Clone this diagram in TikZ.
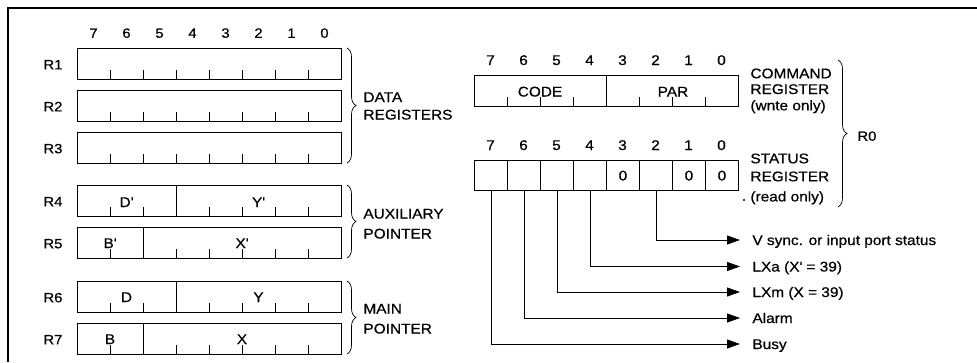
\documentclass[tikz,border=0pt]{standalone}
\usepackage{fontspec}
\setmainfont{Liberation Sans}[FakeStretch=1.1,FakeBold=0.6]
\usetikzlibrary{arrows.meta,decorations.pathreplacing}
\begin{document}
\begin{tikzpicture}[x=1pt,y=-1pt,line width=0.9pt,
  every node/.style={inner sep=0pt},
  lbl/.style={font=\fontsize{14}{17}\selectfont, text height=10pt, text depth=0pt},
  lbls/.style={font=\fontsize{13.5}{16}\selectfont, text height=9.6pt, text depth=0pt},
  regbox/.style={draw, minimum width=264pt, minimum height=31pt, anchor=north west},
  cell/.style={draw, minimum width=33pt, minimum height=30pt, anchor=north west, lbl},
  brc/.style={decorate, decoration={brace, amplitude=9pt}, line width=0.7pt},
  arr/.style={-{Triangle[length=13pt,width=9pt]}, line width=0.9pt},
  tick/.style={line width=0.8pt}]
\useasboundingbox (0,0) rectangle (977,362);
\draw[line width=1.6pt] (8,362) -- (8,8) -- (977,8);

% left bit numbers
\foreach \b in {0,...,7} \node[lbls] (tb\b) at (93.5+33*7-33*\b,33) {\b};

% left registers
\foreach \i/\y in {1/48,2/90,3/132,4/185,5/227,6/281,7/323} {
  \node[regbox] (r\i) at (77,\y) {};
  \node[lbls, anchor=west] (rl\i) at (43,\y+16.5) {R\i};
  \foreach \k in {0,...,6} \draw[tick] (110+33*\k,\y+31) -- ++(0,-9);
}
\draw (176,185) -- (176,216);
\draw (143,227) -- (143,258);
\draw (176,281) -- (176,312);
\draw (143,323) -- (143,354);
\node[lbl] (dp) at (126.5,202) {D\textquotesingle};
\node[lbl] (yp) at (258.5,202) {Y\textquotesingle};
\node[lbl] (bp) at (110,243) {B\textquotesingle};
\node[lbl] (xp) at (242,243) {X\textquotesingle};
\node[lbl] (dm) at (126.5,297) {D};
\node[lbl] (ym) at (258.5,297) {Y};
\node[lbl] (bm) at (110,339) {B};
\node[lbl] (xm) at (242,339) {X};

% left braces and labels
\draw[brc] (347,48) -- (347,163);
\draw[brc] (347,185) -- (347,258);
\draw[brc] (347,281) -- (347,354);
\node[lbl, anchor=west] (dr1) at (363,97) {DATA};
\node[lbl, anchor=west] (dr2) at (363,114.5) {REGISTERS};
\node[lbl, anchor=west] (ap1) at (363,213.5) {AUXILIARY};
\node[lbl, anchor=west] (ap2) at (363,233.5) {POINTER};
\node[lbl, anchor=west] (mp1) at (363,308.5) {MAIN};
\node[lbl, anchor=west] (mp2) at (363,328.5) {POINTER};

% command register
\foreach \b in {0,...,7} \node[lbl] (cb\b) at (490.5+33*7-33*\b,60) {\b};
\node[regbox] (cmd) at (474,75) {};
\foreach \k in {0,...,6} \draw[tick] (507+33*\k,106) -- ++(0,-9);
\draw (606,75) -- (606,106);
\node[lbl] (code) at (540,91.5) {CODE};
\node[lbl] (par) at (673,91.5) {PAR};
\node[lbl, anchor=west] (ct1) at (750,73.3) {COMMAND};
\node[lbl, anchor=west] (ct2) at (750,89) {REGISTER};
\node[lbl, anchor=west] (ct3) at (750,105.3) {(wnte only)};

% status register
\foreach \b in {0,...,7} \node[lbl] (sb\b) at (490.5+33*7-33*\b,145) {\b};
\foreach \b/\t in {7/,6/,5/,4/,3/0,2/,1/0,0/0}
  \node[cell] (s\b) at (474+33*7-33*\b,160) {\t};
\node[lbl, anchor=west] (st1) at (750,158.3) {STATUS};
\node[lbl, anchor=west] (st2) at (750,176.3) {REGISTER};
\node[lbl, anchor=west] (st3) at (750,196.4) {(read only)};
\fill (744,200) circle (1.1pt);

% R0 brace
\draw[brc] (838,60) -- (838,207);
\node[lbls, anchor=west] (r0) at (857,136) {R0};

% status outputs
\node[lbl, anchor=west] (vs) at (752,240) {V sync. or input port status};
\node[lbl, anchor=west] (lxa) at (752,266.5) {LXa (X\textquotesingle{} = 39)};
\node[lbl, anchor=west] (lxm) at (752,292) {LXm (X = 39)};
\node[lbl, anchor=west] (alarm) at (752,318) {Alarm};
\node[lbl, anchor=west] (busy) at (752,344) {Busy};
\draw[arr] (s2.south) |- ([xshift=-12pt]vs.west);
\draw[arr] (s4.south) |- ([xshift=-12pt]lxa.west);
\draw[arr] (s5.south) |- ([xshift=-12pt]lxm.west);
\draw[arr] (s6.south) |- ([xshift=-12pt]alarm.west);
\draw[arr] (s7.south) |- ([xshift=-12pt]busy.west);
\end{tikzpicture}
\end{document}
